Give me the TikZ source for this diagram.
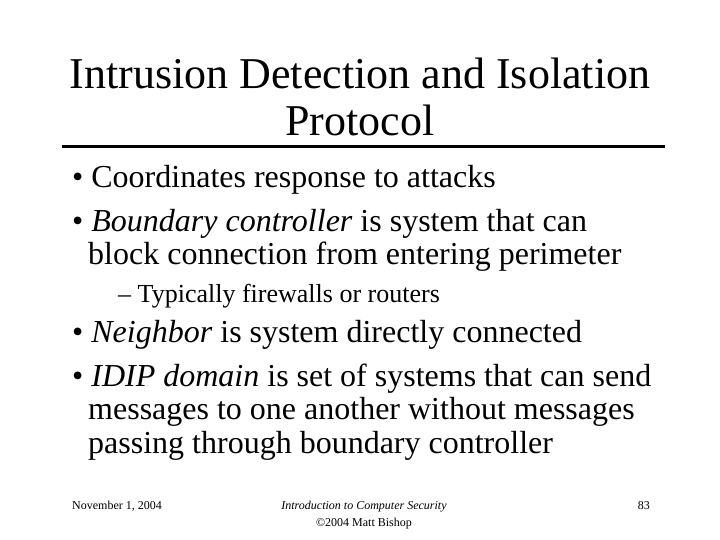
\documentclass[tikz,border=0pt]{standalone}
\usepackage{fontspec}
\setmainfont{Liberation Serif}
\begin{document}
\begin{tikzpicture}[x=1pt,y=-1pt,
  ttl/.style={font=\fontsize{44}{48}\selectfont,inner sep=0,anchor=base},
  bl/.style={font=\fontsize{32}{36}\selectfont,inner sep=0,anchor=base west},
  sb/.style={font=\fontsize{26}{30}\selectfont,inner sep=0,anchor=base west},
  ft/.style={font=\fontsize{12}{14}\selectfont,inner sep=0,anchor=base}]
\useasboundingbox (0,0) rectangle (720,540);
\node[ttl] (t1) at (360,89) {Intrusion Detection and Isolation};
\node[ttl] (t2) at (360,136) {Protocol};
\draw[line width=3pt] (62,147) -- (665,147);
\node[bl] (b1) at (72,188) {• Coordinates response to attacks};
\node[bl] (b2) at (72,231) {• \textit{Boundary controller} is system that can};
\node[bl] (b2b) at (88,264) {block connection from entering perimeter};
\node[sb] (s1) at (118,302) {– Typically firewalls or routers};
\node[bl] (b3) at (72,342) {• \textit{Neighbor} is system directly connected};
\node[bl] (b4) at (72,386) {• \textit{IDIP domain} is set of systems that can send};
\node[bl] (b4b) at (88,419) {messages to one another without messages};
\node[bl] (b4c) at (88,453) {passing through boundary controller};
\node[ft,anchor=base west] (f1) at (72,509) {November 1, 2004};
\node[ft] (f2) at (364,509) {\textit{Introduction to Computer Security}};
\node[ft] (f3) at (364,526) {©2004 Matt Bishop};
\node[ft,anchor=base east] (f4) at (650,509) {83};
\end{tikzpicture}
\end{document}
